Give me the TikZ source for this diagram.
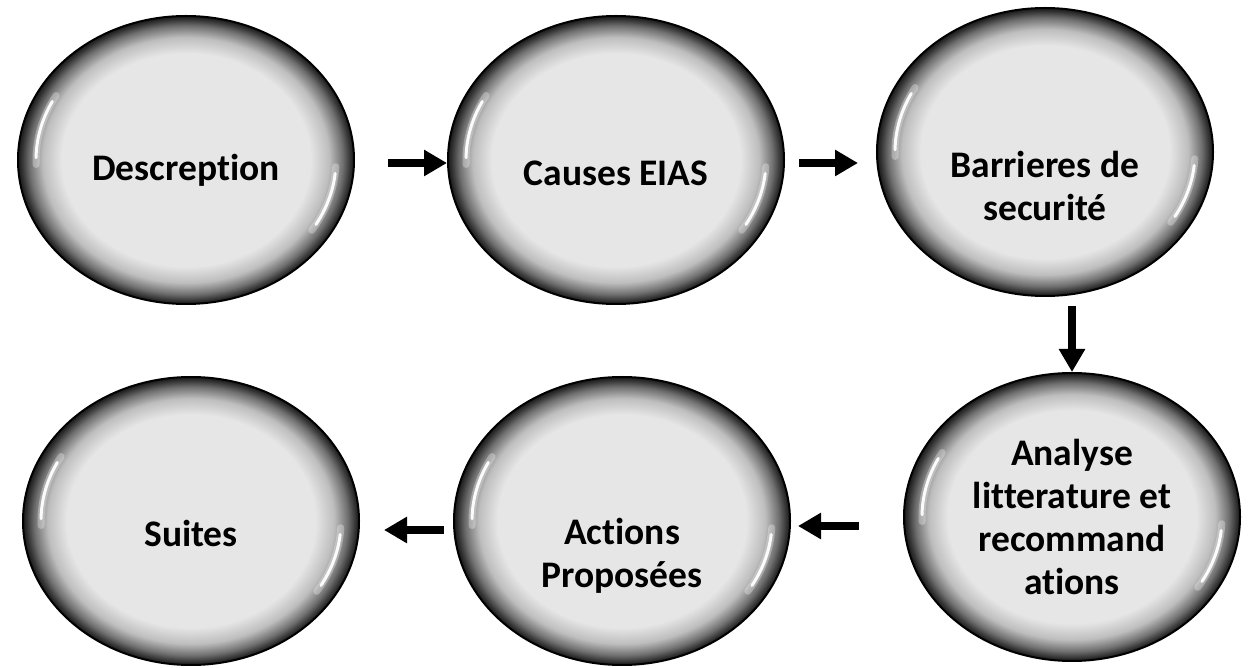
\documentclass[tikz,border=0pt]{standalone}
\usepackage{fontspec}
\setmainfont{Carlito}[Ligatures=NoCommon]
\usetikzlibrary{arrows.meta,shapes.geometric,calc}
\definecolor{beadlight}{HTML}{E6E6E6}
\definecolor{beadsoft}{HTML}{BEBEBE}
\definecolor{beadmid}{HTML}{707070}
\definecolor{beaddark}{HTML}{303030}
\pgfdeclareradialshading{bead}{\pgfpoint{0bp}{0bp}}{color(0bp)=(beadlight); color(18.5bp)=(beadlight); color(21.3bp)=(beadsoft); color(23.3bp)=(beadmid); color(24.5bp)=(beaddark); color(25bp)=(black!90); color(50bp)=(black!90)}

\begin{document}
\begin{tikzpicture}[x=1pt, y=1pt, thick,
  bead/.style={ellipse, draw=black, line width=2pt, shade, shading=bead,
    minimum width=336pt, minimum height=288pt, inner sep=0pt},
  word/.style={font=\bfseries\fontsize{37.5}{43}\selectfont, align=center},
  flow/.style={line width=8pt, -{Triangle[length=23pt,width=25pt]}},
  glint/.style={white, line width=3pt, line cap=round, opacity=0.95},
  halo/.style={white, line width=7pt, line cap=round, opacity=0.3}]
\useasboundingbox (0,0) rectangle (1248,667);

\coordinate (P1) at (186,507);
\coordinate (P2) at (616,507);
\coordinate (P3) at (1045,515);
\coordinate (P4) at (1072,150);
\coordinate (P5) at (622,146);
\coordinate (P6) at (191,146);

\node[bead, label={[word, yshift=-10pt]center:Descreption}] (desc) at (P1) {};
\node[bead, label={[word, yshift=-13pt]center:Causes EIAS}] (causes) at (P2) {};
\node[bead, label={[word, yshift=-34pt]center:{Barrieres de\\securité}}] (barr) at (P3) {};
\node[bead, label={[word]center:{Analyse\\litterature et\\recommand\\ations}}] (analyse) at (P4) {};
\node[bead, label={[word, yshift=-35pt]center:{Actions\\Proposées}}] (actions) at (P5) {};
\node[bead, label={[word, yshift=-12pt]center:Suites}] (suites) at (P6) {};

\foreach \n in {desc,causes,barr,analyse,actions,suites}{
  \draw[halo] ($(\n.center)+(150:150pt and 129pt)$) arc[start angle=150, end angle=182, x radius=150pt, y radius=129pt];
  \draw[glint] ($(\n.center)+(153:150pt and 129pt)$) arc[start angle=153, end angle=179, x radius=150pt, y radius=129pt];
  \draw[halo] ($(\n.center)+(-3:150pt and 129pt)$) arc[start angle=-3, end angle=-33, x radius=150pt, y radius=129pt];
  \draw[glint] ($(\n.center)+(-6:150pt and 129pt)$) arc[start angle=-6, end angle=-30, x radius=150pt, y radius=129pt];
}

\draw[flow, shorten <=33pt] ([yshift=-3pt]desc.east) -- ([yshift=-3pt]causes.west);
\draw[flow, shorten <=14pt, shorten >=18pt] ([yshift=-3pt]causes.east) -- ([yshift=-3pt]causes.east -| barr.west);
\draw[flow, shorten <=9pt] (barr.south -| analyse.north) -- (analyse.north);
\draw[flow, shorten <=44pt, shorten >=7pt] ([yshift=-9pt]analyse.west) -- ([yshift=-9pt]analyse.west -| actions.east);
\draw[flow, shorten <=9pt, shorten >=24pt] ([yshift=-9pt]actions.west) -- ([yshift=-9pt]actions.west -| suites.east);
\end{tikzpicture}
\end{document}
